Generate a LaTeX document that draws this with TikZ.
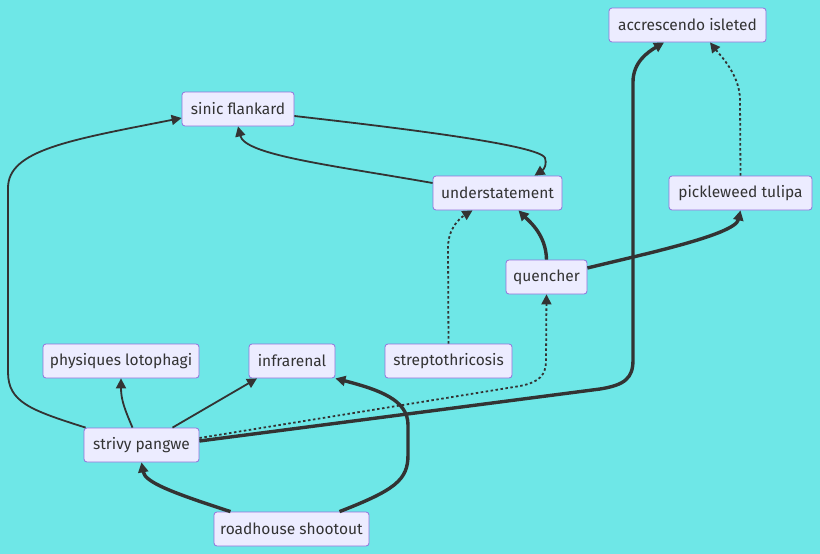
\documentclass[tikz,border=0pt]{standalone}
\usepackage{fontspec}
\setmainfont{Fira Sans}
\usetikzlibrary{arrows.meta,calc}
\definecolor{bg}{HTML}{6EE7E7}
\definecolor{nodefill}{HTML}{ECECFF}
\definecolor{nodeborder}{HTML}{9370DB}
\definecolor{edge}{HTML}{333333}
\definecolor{txt}{HTML}{333333}
\begin{document}
\begin{tikzpicture}[x=1pt,y=-1pt,
  box/.style={draw=nodeborder, fill=nodefill, rounded corners=3pt, line width=0.8pt,
    minimum height=34pt, inner sep=0pt, text=txt, font=\fontsize{15.5}{18}\selectfont},
  tipx/.style={-{Triangle[length=10pt,width=10pt]}},
  normal/.style={draw=edge, line width=1.8pt, tipx},
  thick/.style={draw=edge, line width=3.4pt, tipx},
  dots/.style={draw=edge, line width=1.8pt, dash pattern=on 2.5pt off 2.5pt, tipx}]
\fill[bg] (0,0) rectangle (820,554);
\useasboundingbox (0,0) rectangle (820,554);
\node[box, minimum width=157pt] (acc) at (687.5,25) {accrescendo isleted};
\node[box, minimum width=112pt] (sinic) at (238,109) {sinic flankard};
\node[box, minimum width=129pt] (under) at (497.5,193) {understatement};
\node[box, minimum width=143pt] (pickle) at (740.5,193) {pickleweed tulipa};
\node[box, minimum width=81pt] (quench) at (546.5,277) {quencher};
\node[box, minimum width=156pt] (phys) at (121,361) {physiques lotophagi};
\node[box, minimum width=86pt] (infra) at (292,361) {infrarenal};
\node[box, minimum width=127pt] (strep) at (448.5,361) {streptothricosis};
\node[box, minimum width=115pt] (strivy) at (141.5,445) {strivy pangwe};
\node[box, minimum width=155pt] (road) at (291.5,529) {roadhouse shootout};

% strivy -> sinic
\draw[normal] ($(strivy.north west)+(2,0)$) .. controls (30,410) and (8,402) .. (8,372)
  -- (8,188) .. controls (8,150) and (70,140) .. ($(sinic.west)+(0,9)$);
% under -> sinic
\draw[normal] ($(under.west)+(0,-10)$) .. controls (330,165) and (245,155) .. (sinic.south);
% sinic -> under
\draw[normal] ($(sinic.east)+(0,7)$) .. controls (400,128) and (540,145) .. (545,158)
  .. controls (548,168) and (540,172) .. ($(under.north)+(37,0)$);
% quencher -> under
\draw[thick] (quench.north) .. controls (546,235) and (530,222) .. ($(under.south)+(21,0)$);
% strep -> under
\draw[dots] (strep.north) -- (448,248) .. controls (448,228) and (460,218) .. ($(under.south)+(-25,0)$);
% quencher -> pickle
\draw[thick] ($(quench.east)+(0,-9)$) .. controls (640,255) and (735,235) .. ($(pickle.south)+(0,0)$);
% pickle -> acc
\draw[dots] (pickle.north) -- (740,100) .. controls (740,75) and (720,55) .. ($(acc.south)+(22.5,0)$);
% strivy -> acc
\draw[thick] ($(strivy.east)+(0,-4)$) -- (600,389) .. controls (625,385) and (633,378) .. (633,360)
  -- (633,82) .. controls (633,62) and (648,52) .. ($(acc.south)+(-23.5,0)$);
% strivy -> quencher
\draw[dots] ($(strivy.east)+(0,-7)$) -- (520,386) .. controls (540,382) and (546,375) .. (546,360)
  -- (quench.south);
% strivy -> phys
\draw[normal] ($(strivy.north)+(-9,0)$) .. controls (125,410) and (121,400) .. (phys.south);
% strivy -> infra
\draw[normal] ($(strivy.north)+(31,0)$) -- ($(infra.south)+(-35,0)$);
% road -> strivy
\draw[thick] ($(road.north)+(-61,0)$) .. controls (170,492) and (145,482) .. (strivy.south);
% road -> infra
\draw[thick] ($(road.north)+(48,0)$) .. controls (395,490) and (408,480) .. (408,455)
  -- (408,425) .. controls (408,400) and (380,390) .. (infra.south east);
\end{tikzpicture}
\end{document}
